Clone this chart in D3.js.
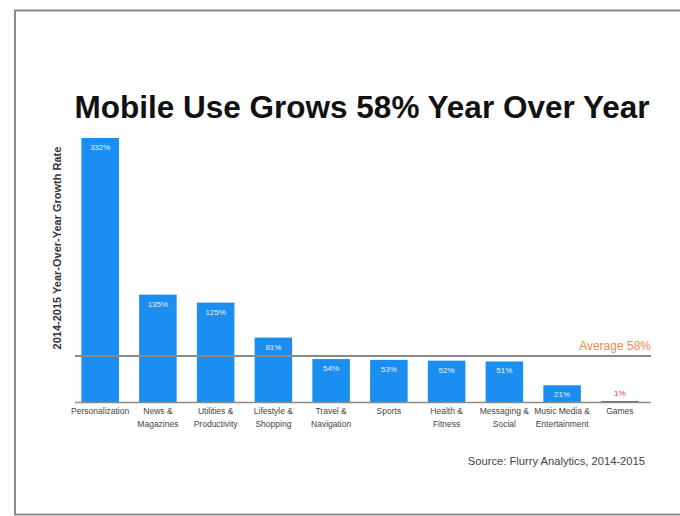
<!DOCTYPE html>
<html><head><meta charset="utf-8">
<script src="https://cdn.jsdelivr.net/npm/d3@7"></script>
<style>body{margin:0;background:#fff}svg{display:block}</style>
</head><body><svg width="680" height="516"></svg>
<script>
const categories = [["Personalization"],["News &","Magazines"],["Utilities &","Productivity"],["Lifestyle &","Shopping"],["Travel &","Navigation"],["Sports"],["Health &","Fitness"],["Messaging &","Social"],["Music Media &","Entertainment"],["Games"]];
const values = [332,135,125,81,54,53,52,51,21,1];
const valueLabels = ["332%","135%","125%","81%","54%","53%","52%","51%","21%","1%"];
const average = 58;
const averageLabel = "Average 58%";
const title = "Mobile Use Grows 58% Year Over Year";
const yTitle = "2014-2015 Year-Over-Year Growth Rate";
const source = "Source: Flurry Analytics, 2014-2015";

const svg = d3.select("svg");
const font = "Liberation Sans, Arial, Helvetica, sans-serif";
svg.append("rect").attr("x",15).attr("y",10.5).attr("width",700).attr("height",504)
  .attr("fill","#fff").attr("stroke","#8a8a8a").attr("stroke-width",2);

const x = d3.scaleBand().domain(d3.range(values.length)).range([71,649]).paddingInner(0.35).paddingOuter(0.18);
const y = d3.scaleLinear().domain([0,332]).range([402,138]);

svg.append("text").attr("x",362).attr("y",118).attr("text-anchor","middle")
  .attr("font-family",font).attr("font-weight","bold").attr("font-size",31.5).attr("fill","#111").text(title);

svg.append("text").attr("transform","translate(61,248) rotate(-90)").attr("text-anchor","middle")
  .attr("font-family",font).attr("font-weight","bold").attr("font-size",11).attr("fill","#333").text(yTitle);

svg.selectAll("rect.bar").data(values).join("rect").attr("class","bar")
  .attr("x",(d,i)=>x(i)).attr("width",x.bandwidth())
  .attr("y",d=>y(d)).attr("height",d=>y(0)-y(d))
  .attr("fill",(d,i)=>i===values.length-1?"#b0102a":"#1b8ef2");

svg.append("line").attr("x1",75).attr("x2",651).attr("y1",y(0)+0.5).attr("y2",y(0)+0.5).attr("stroke","#8a8a8a").attr("stroke-width",1.5);
svg.append("line").attr("x1",75).attr("x2",651).attr("y1",y(average)).attr("y2",y(average)).attr("stroke","#8a8a8a").attr("stroke-width",2);
svg.append("text").attr("x",651).attr("y",y(average)-6).attr("text-anchor","end")
  .attr("font-family",font).attr("font-size",12).attr("fill","#f08a4b").text(averageLabel);

svg.selectAll("text.val").data(values).join("text").attr("class","val")
  .attr("x",(d,i)=>x(i)+x.bandwidth()/2)
  .attr("y",(d,i)=>i===values.length-1?y(d)-5:y(d)+12)
  .attr("text-anchor","middle").attr("font-family",font).attr("font-size",8)
  .attr("fill",(d,i)=>i===values.length-1?"#e0303a":"#e8f3ff").text((d,i)=>valueLabels[i]);

const xl = svg.selectAll("g.xl").data(categories).join("g").attr("class","xl")
  .attr("transform",(d,i)=>`translate(${x(i)+x.bandwidth()/2},414)`);
xl.selectAll("text").data(d=>d).join("text").attr("y",(d,j)=>j*12.5)
  .attr("text-anchor","middle").attr("font-family",font).attr("font-size",8.5).attr("fill","#444").text(d=>d);

svg.append("text").attr("x",645).attr("y",465).attr("text-anchor","end")
  .attr("font-family",font).attr("font-size",11.2).attr("fill","#444").text(source);
</script></body></html>
